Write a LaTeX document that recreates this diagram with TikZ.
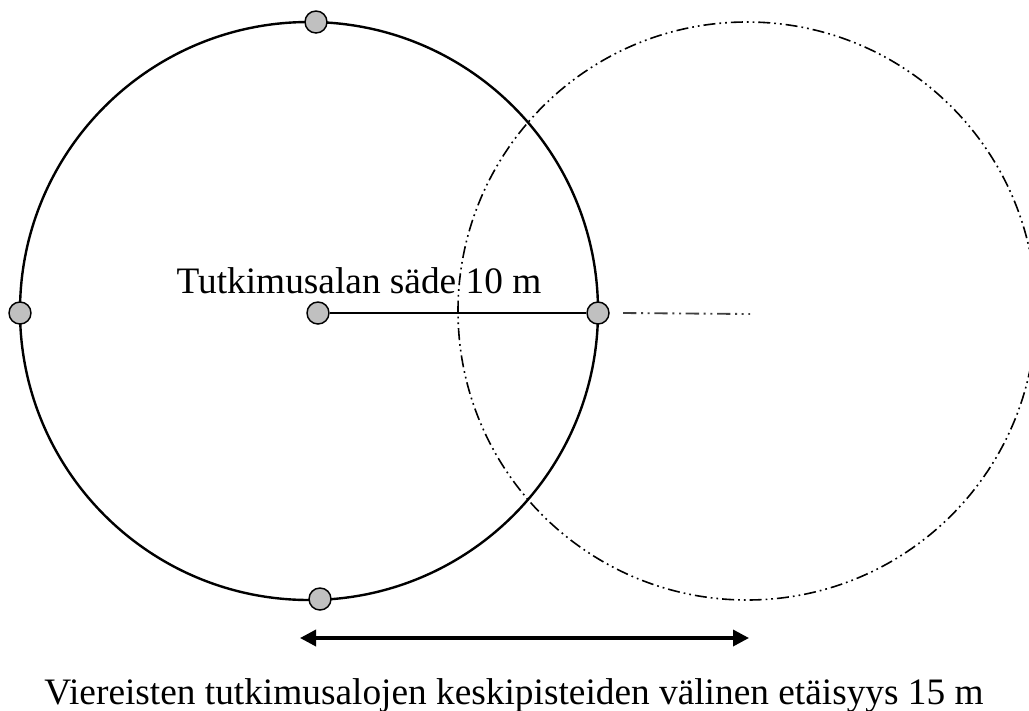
\documentclass[tikz,border=0pt]{standalone}
\usepackage{fontspec}
\setmainfont{Liberation Serif}
\usetikzlibrary{arrows.meta,positioning}
\definecolor{dotgray}{HTML}{C0C0C0}
\definecolor{linegray}{HTML}{404040}
\tikzset{
  % survey points on the plot edge
  pnt/.style   = {circle, draw=black, fill=dotgray, line width=1.1pt,
                  inner sep=0pt, minimum size=16.5pt},
  plot/.style  = {line width=1.8pt, black},
  nbr/.style   = {line width=1.2pt, black,
                  dash pattern=on 9pt off 3pt on 1.3pt off 3pt on 1.3pt off 3pt},
  rad/.style   = {line width=1.8pt, black},
  radx/.style  = {line width=1.4pt, linegray,
                  dash pattern=on 10pt off 3.5pt on 1.5pt off 3.5pt on 1.5pt off 3.5pt},
  span/.style  = {{Triangle[length=12pt,width=12pt]}-{Triangle[length=12pt,width=12pt]},
                  line width=2.6pt, black},
  lbl/.style   = {font=\fontsize{28}{32}\selectfont, inner sep=0pt},
}
\begin{document}
\begin{tikzpicture}[x=0.75pt,y=-0.75pt]
\useasboundingbox (0,0) rectangle (1029,711);
% plots
\draw[plot] (309,311) circle (289);
\draw[nbr] (747,311) circle (289);
% survey points
\node[pnt] (c) at (318,313) {};
\node[pnt] (n) at (316,22) {};
\node[pnt] (w) at (20,313) {};
\node[pnt] (e) at (598,313) {};
\node[pnt] (s) at (320,599) {};
% radius
\coordinate (c2) at (750,314);
\draw[rad] (c) -- (e);
\draw[radx] ([xshift=10pt]e.east) -- (c2);
\node[lbl, anchor=base] (r) at (359,293) {Tutkimusalan säde 10 m};
% spacing
\coordinate (a) at (300,638);
\coordinate (b) at (749,638);
\draw[span] (a) -- (b);
\node[lbl, anchor=base] (d) at (514,704) {Viereisten tutkimusalojen keskipisteiden välinen etäisyys 15 m};
\end{tikzpicture}
\end{document}
